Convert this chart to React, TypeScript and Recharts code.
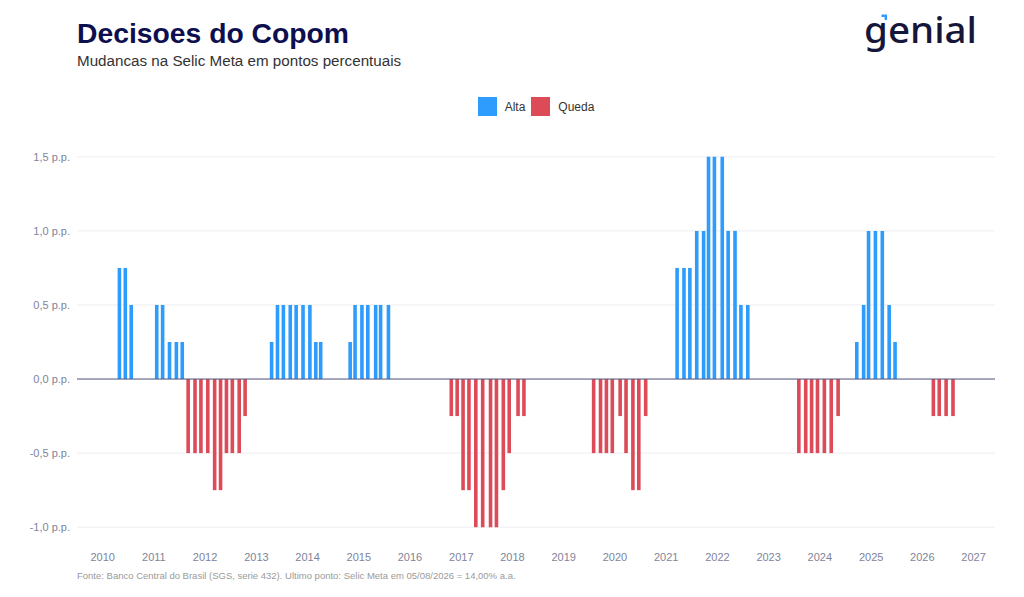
import React from "react";
import {
  BarChart,
  Bar,
  XAxis,
  YAxis,
  CartesianGrid,
  ReferenceLine,
  Legend,
} from "recharts";

// Copom meeting dates with a change in the Selic target
const meetingDates: string[] = [
  "2010-04-28", "2010-06-09", "2010-07-21",
  "2011-01-19", "2011-03-02", "2011-04-20", "2011-06-08", "2011-07-20",
  "2011-08-31", "2011-10-19", "2011-11-30",
  "2012-01-18", "2012-03-07", "2012-04-18", "2012-05-30", "2012-07-11",
  "2012-08-29", "2012-10-10",
  "2013-04-17", "2013-05-29", "2013-07-10", "2013-08-28", "2013-10-09",
  "2013-11-27",
  "2014-01-15", "2014-02-26", "2014-04-02", "2014-10-29", "2014-12-03",
  "2015-01-21", "2015-03-04", "2015-04-29", "2015-06-03", "2015-07-29",
  "2016-10-19", "2016-11-30",
  "2017-01-11", "2017-02-22", "2017-04-12", "2017-05-31", "2017-07-26",
  "2017-09-06", "2017-10-25", "2017-12-06",
  "2018-02-07", "2018-03-21",
  "2019-07-31", "2019-09-18", "2019-10-30", "2019-12-11",
  "2020-02-05", "2020-03-18", "2020-05-06", "2020-06-17", "2020-08-05",
  "2021-03-17", "2021-05-05", "2021-06-16", "2021-08-04", "2021-09-22",
  "2021-10-27", "2021-12-08",
  "2022-02-02", "2022-03-16", "2022-05-04", "2022-06-15", "2022-08-03",
  "2023-08-02", "2023-09-20", "2023-11-01", "2023-12-13",
  "2024-01-31", "2024-03-20", "2024-05-08", "2024-09-18", "2024-11-06",
  "2024-12-11",
  "2025-01-29", "2025-03-19", "2025-05-07", "2025-06-18",
  "2026-03-18", "2026-04-29", "2026-06-17", "2026-08-05",
];

// Change in p.p. at each meeting
const changes: number[] = [
  0.75, 0.75, 0.5,
  0.5, 0.5, 0.25, 0.25, 0.25,
  -0.5, -0.5, -0.5,
  -0.5, -0.75, -0.75, -0.5, -0.5,
  -0.5, -0.25,
  0.25, 0.5, 0.5, 0.5, 0.5,
  0.5,
  0.5, 0.25, 0.25, 0.25, 0.5,
  0.5, 0.5, 0.5, 0.5, 0.5,
  -0.25, -0.25,
  -0.75, -0.75, -1.0, -1.0, -1.0,
  -1.0, -0.75, -0.5,
  -0.25, -0.25,
  -0.5, -0.5, -0.5, -0.5,
  -0.25, -0.5, -0.75, -0.75, -0.25,
  0.75, 0.75, 0.75, 1.0, 1.0,
  1.5, 1.5,
  1.5, 1.0, 1.0, 0.5, 0.5,
  -0.5, -0.5, -0.5, -0.5,
  -0.5, -0.5, -0.25, 0.25, 0.5,
  1.0,
  1.0, 1.0, 0.5, 0.25,
  -0.25, -0.25, -0.25, -0.25,
];

const yearLabels: number[] = [
  2010, 2011, 2012, 2013, 2014, 2015, 2016, 2017, 2018,
  2019, 2020, 2021, 2022, 2023, 2024, 2025, 2026, 2027,
];

const yTicks: number[] = [-1.0, -0.5, 0, 0.5, 1.0, 1.5];

const BLUE = "#2d9cfd";
const RED = "#dc4b57";
const NAVY = "#0d0f4f";
const FONT = "'Liberation Sans', Arial, Helvetica, sans-serif";

const data = meetingDates.map((d, i) => {
  const v = changes[i];
  return {
    t: Date.parse(d + "T00:00:00Z"),
    alta: v > 0 ? v : null,
    queda: v < 0 ? v : null,
  };
});

const xTicks = yearLabels.map((y) => Date.UTC(y, 0, 1));
const xDomain: [number, number] = [Date.UTC(2009, 6, 2), Date.UTC(2027, 5, 3)];

const fmtY = (v: number) => v.toFixed(1).replace(".", ",") + " p.p.";
const fmtX = (v: number) => String(new Date(v).getUTCFullYear());

const LegendContent = (props: any) => {
  const payload = props.payload || [];
  return (
    <div
      style={{
        display: "flex",
        justifyContent: "center",
        alignItems: "center",
        fontFamily: FONT,
        fontSize: 12,
        color: "#333",
      }}
    >
      {payload.map((p: any, i: number) => (
        <div
          key={i}
          style={{
            display: "flex",
            alignItems: "center",
            marginLeft: i === 0 ? 0 : 6,
          }}
        >
          <div
            style={{
              width: 19,
              height: 19,
              background: p.color,
              marginRight: 8,
            }}
          />
          <span>{p.value}</span>
        </div>
      ))}
    </div>
  );
};

export default function App() {
  return (
    <div
      style={{
        position: "absolute",
        left: 0,
        top: 0,
        width: 1024,
        height: 597,
        background: "#fff",
        fontFamily: FONT,
      }}
    >
      <BarChart
        width={1024}
        height={597}
        data={data}
        margin={{ top: 142, right: 29, bottom: 25, left: 0 }}
      >
        <CartesianGrid
          vertical={false}
          horizontalValues={yTicks}
          stroke="#eeeef3"
          strokeWidth={1}
        />
        <XAxis
          dataKey="t"
          type="number"
          domain={xDomain}
          ticks={xTicks}
          tickFormatter={fmtX}
          allowDataOverflow
          axisLine={false}
          tickLine={false}
          height={30}
          tickMargin={5}
          tick={{ fill: "#80849a", fontSize: 11, fontFamily: FONT }}
          interval={0}
        />
        <YAxis
          domain={[-1.1, 1.6]}
          ticks={yTicks}
          tickFormatter={fmtY}
          allowDataOverflow
          axisLine={false}
          tickLine={false}
          width={77}
          tickMargin={1}
          tick={{ fill: "#80849a", fontSize: 11, fontFamily: FONT }}
        />
        <Legend
          layout="horizontal"
          verticalAlign="middle"
          align="center"
          wrapperStyle={{ left: 77, top: 97, width: 918 }}
          content={LegendContent}
        />
        <Bar
          dataKey="alta"
          name="Alta"
          stackId="s"
          fill={BLUE}
          barSize={3.6}
          isAnimationActive={false}
        />
        <Bar
          dataKey="queda"
          name="Queda"
          stackId="s"
          fill={RED}
          barSize={3.6}
          isAnimationActive={false}
        />
        <ReferenceLine y={0} stroke="#55577f" strokeWidth={1} />
      </BarChart>
      <svg
        width={1024}
        height={597}
        style={{ position: "absolute", left: 0, top: 0, pointerEvents: "none" }}
      >
        <text
          x={77}
          y={42.5}
          fontFamily={FONT}
          fontSize={28.3}
          fontWeight={700}
          fill={NAVY}
        >
          Decisoes do Copom
        </text>
        <text x={77} y={66} fontFamily={FONT} fontSize={15.2} fill="#333">
          Mudancas na Selic Meta em pontos percentuais
        </text>
        <text
          x={864}
          y={43}
          fontFamily="'Noto Sans', Lato, sans-serif"
          fontSize={37}
          fontWeight={500}
          fill="#15163a"
          textLength={113}
          lengthAdjust="spacingAndGlyphs"
        >
          genial
        </text>
        <path d="M881.5 14.5 H887 V20 H884.6 V16.9 H881.5 Z" fill={BLUE} />
        <text x={77} y={579} fontFamily={FONT} fontSize={9.5} fill="#9a9a9a">
          Fonte: Banco Central do Brasil (SGS, serie 432). Ultimo ponto: Selic
          Meta em 05/08/2026 = 14,00% a.a.
        </text>
      </svg>
    </div>
  );
}
